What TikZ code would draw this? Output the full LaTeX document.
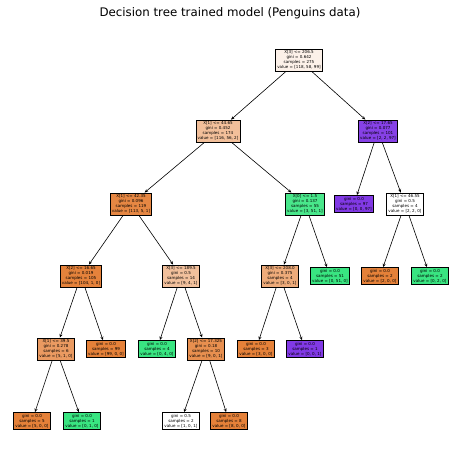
\documentclass[tikz,border=0pt]{standalone}
\usepackage{fontspec}
\usetikzlibrary{arrows.meta}
\newfontfamily\djv{DejaVu Sans}
\definecolor{cO}{RGB}{229,129,57}
\definecolor{cG}{RGB}{57,229,129}
\definecolor{cP}{RGB}{129,57,229}
\tikzset{
  tn/.style={draw=black, line width=0.8pt, inner sep=1.7pt, align=center,
    font={\djv\fontsize{4.05}{5}\selectfont}},
  edge/.style={-{Stealth[length=3.5pt,width=3pt]}, line width=0.6pt}
}
\begin{document}
\begin{tikzpicture}[x=1pt,y=-1pt]
\useasboundingbox[fill=white] (0,0) rectangle (460,465);
\node[font={\djv\fontsize{11.8}{14}\selectfont}] (title) at (230,13) {Decision tree trained model (Penguins data)};
\node[tn, fill=cO!11] (r) at (299,60) {X[3] <= 206.5\\gini = 0.642\\samples = 275\\value = [118, 58, 99]};
\node[tn, fill=cO!51] (n2) at (218,131) {X[1] <= 44.65\\gini = 0.452\\samples = 174\\value = [116, 56, 2]};
\node[tn, fill=cP!96] (n3) at (378,131) {X[2] <= 17.65\\gini = 0.077\\samples = 101\\value = [2, 2, 97]};
\node[tn, fill=cO!95] (n4) at (131,204) {X[1] <= 42.35\\gini = 0.096\\samples = 119\\value = [113, 5, 1]};
\node[tn, fill=cG!92] (n5) at (305,204) {X[0] <= 1.5\\gini = 0.137\\samples = 55\\value = [3, 51, 1]};
\node[tn, fill=cP] (n6) at (354,204) {gini = 0.0\\samples = 97\\value = [0, 0, 97]};
\node[tn, fill=white] (n7) at (405,204) {X[1] <= 46.55\\gini = 0.5\\samples = 4\\value = [2, 2, 0]};
\node[tn, fill=cO!99] (n8) at (81,276) {X[2] <= 16.65\\gini = 0.019\\samples = 105\\value = [104, 1, 0]};
\node[tn, fill=cO!50] (n9) at (181,276) {X[3] <= 189.5\\gini = 0.5\\samples = 14\\value = [9, 4, 1]};
\node[tn, fill=cO!67] (n10) at (280,276) {X[3] <= 208.0\\gini = 0.375\\samples = 4\\value = [3, 0, 1]};
\node[tn, fill=cG] (n11) at (330,276) {gini = 0.0\\samples = 51\\value = [0, 51, 0]};
\node[tn, fill=cO] (n12) at (380,276) {gini = 0.0\\samples = 2\\value = [2, 0, 0]};
\node[tn, fill=cG] (n13) at (430,276) {gini = 0.0\\samples = 2\\value = [0, 2, 0]};
\node[tn, fill=cO!80] (n14) at (56,349) {X[1] <= 39.5\\gini = 0.278\\samples = 6\\value = [5, 1, 0]};
\node[tn, fill=cO] (n15) at (106,349) {gini = 0.0\\samples = 99\\value = [99, 0, 0]};
\node[tn, fill=cG] (n16) at (157,349) {gini = 0.0\\samples = 4\\value = [0, 4, 0]};
\node[tn, fill=cO!89] (n17) at (206,349) {X[2] <= 17.325\\gini = 0.18\\samples = 10\\value = [9, 0, 1]};
\node[tn, fill=cO] (n18) at (256,349) {gini = 0.0\\samples = 3\\value = [3, 0, 0]};
\node[tn, fill=cP] (n19) at (305,349) {gini = 0.0\\samples = 1\\value = [0, 0, 1]};
\node[tn, fill=cO] (n20) at (32,421) {gini = 0.0\\samples = 5\\value = [5, 0, 0]};
\node[tn, fill=cG] (n21) at (82,421) {gini = 0.0\\samples = 1\\value = [0, 1, 0]};
\node[tn, fill=white] (n22) at (181,421) {gini = 0.5\\samples = 2\\value = [1, 0, 1]};
\node[tn, fill=cO] (n23) at (229,421) {gini = 0.0\\samples = 8\\value = [8, 0, 0]};
\foreach \a/\b in {r/n2,r/n3,n2/n4,n2/n5,n3/n6,n3/n7,n4/n8,n4/n9,n5/n10,n5/n11,n7/n12,n7/n13,n8/n14,n8/n15,n9/n16,n9/n17,n10/n18,n10/n19,n14/n20,n14/n21,n17/n22,n17/n23}
  \draw[edge] (\a) -- (\b);
\end{tikzpicture}
\end{document}
